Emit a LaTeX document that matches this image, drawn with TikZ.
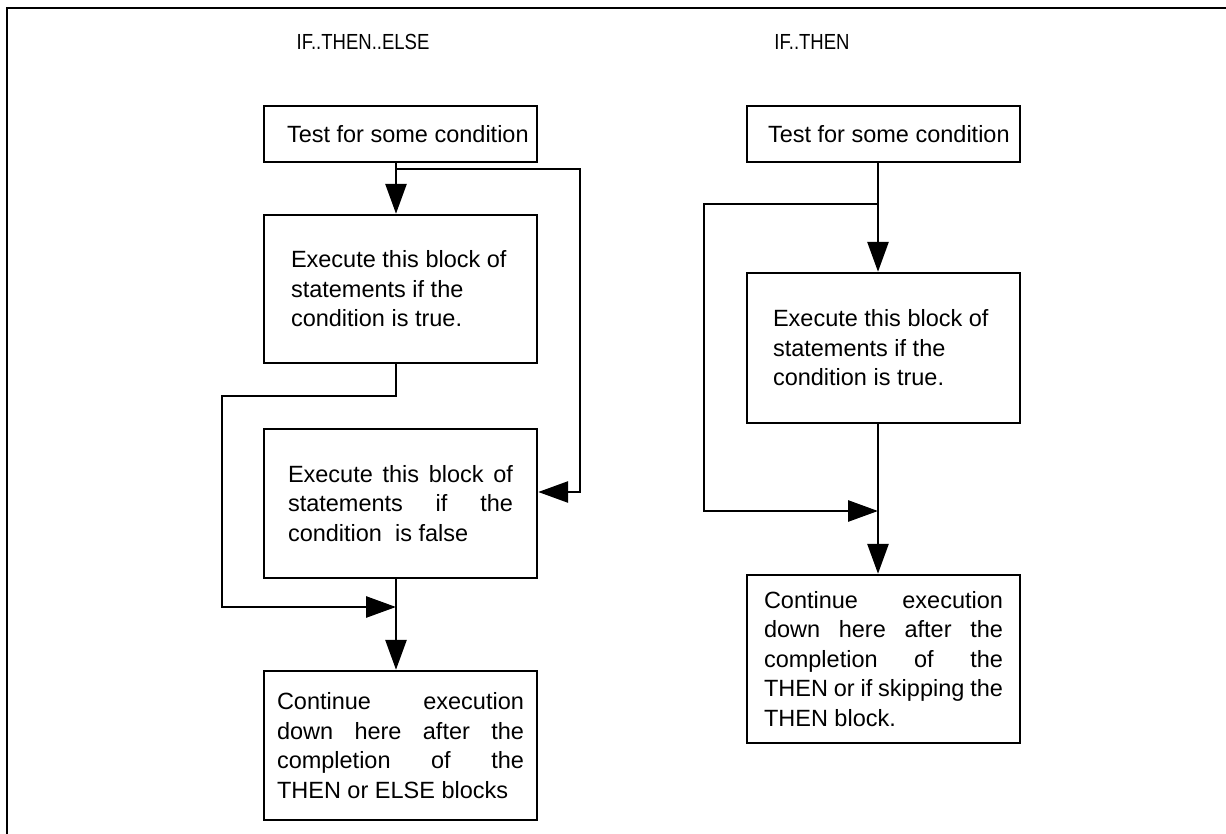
\documentclass[tikz,border=0pt]{standalone}
\usepackage{fontspec}
\setmainfont{Liberation Sans}
\usetikzlibrary{arrows.meta}
\newcommand\jline[2]{\makebox[#1pt][s]{#2}}
\newcommand\lline[2]{\makebox[#1pt][l]{#2}}
\newcommand\tallt[1]{\scalebox{0.95}[1.12]{#1}}
\begin{document}
\begin{tikzpicture}[x=1pt,y=-1pt,
  box/.style={draw, line width=2.4pt, minimum width=273pt, inner sep=0pt, align=left,
    font=\fontsize{23.5}{29.5}\selectfont, anchor=center},
  conn/.style={line width=2.8pt},
  arr/.style={conn, -{Triangle[length=30pt,width=21pt]}},
  ttl/.style={font=\fontsize{19.5}{22}\selectfont, inner sep=0pt}
]
\useasboundingbox (0,0) rectangle (1226,834);
\draw[line width=1.6pt] (1226,8) -- (7,8) -- (7,834);

% titles
\node[ttl] (h1) at (363,42) {\tallt{IF..THEN..ELSE}};
\node[ttl] (h2) at (812,42) {\tallt{IF..THEN}};

% left column
\node[box, minimum height=56pt] (t1) at (400.5,134) {\lline{227}{Test for some condition}};
\node[box, minimum height=148pt] (e1) at (400.5,289)
  {\lline{219}{Execute this block of}\\ \lline{219}{statements if the}\\ \lline{219}{condition is true.}};
\node[box, minimum height=149pt] (e2) at (400.5,503.5)
  {\jline{225}{Execute this block of}\\ \jline{225}{statements if the}\\ \lline{225}{condition\ \ is false}};
\node[box, minimum height=149pt] (c1) at (400.5,745.5)
  {\jline{247}{Continue execution}\\ \jline{247}{down here after the}\\ \jline{247}{completion of the}\\ \lline{247}{THEN or ELSE blocks}};

% right column
\node[box, minimum height=56pt] (t2) at (883.5,134) {\lline{231}{Test for some condition}};
\node[box, minimum height=150pt] (e3) at (883.5,348)
  {\lline{221}{Execute this block of}\\ \lline{221}{statements if the}\\ \lline{221}{condition is true.}};
\node[box, minimum height=168pt] (c2) at (883.5,659)
  {\jline{239}{Continue execution}\\ \jline{239}{down here after the}\\ \jline{239}{completion of the}\\ \jline{239}{THEN or if skipping the}\\ \lline{239}{THEN block.}};

% left connectors
\coordinate (j1) at (396,169);
\coordinate (r1) at (580,169);
\coordinate (r2) at (580,492);
\coordinate (l1) at (396,396);
\coordinate (l2) at (222,396);
\coordinate (l3) at (222,607);
\coordinate (m1) at (396,607);
\draw[arr] ([xshift=-4.5pt]t1.south) -- ([xshift=-4.5pt]e1.north);
\draw[arr] (j1) -- (r1) -- (r2) -- (r2 -| e2.east);
\draw[arr] ([xshift=-4.5pt]e1.south) -- (l1) -- (l2) -- (l3) -- (m1);
\draw[arr] ([xshift=-4.5pt]e2.south) -- ([xshift=-4.5pt]c1.north);

% right connectors
\coordinate (j2) at (878,204);
\coordinate (k1) at (704,204);
\coordinate (k2) at (704,511);
\coordinate (k3) at (878,511);
\draw[arr] ([xshift=-5.5pt]t2.south) -- ([xshift=-5.5pt]e3.north);
\draw[arr] (j2) -- (k1) -- (k2) -- (k3);
\draw[arr] ([xshift=-5.5pt]e3.south) -- ([xshift=-5.5pt]c2.north);
\end{tikzpicture}
\end{document}
